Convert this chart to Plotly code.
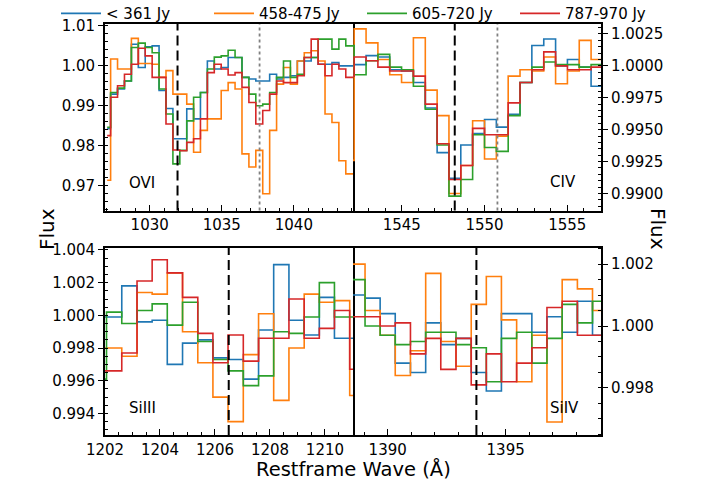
import plotly.graph_objects as go

labels = ["< 361 Jy", "458-475 Jy", "605-720 Jy", "787-970 Jy"]
colors = ["#1f77b4", "#ff7f0e", "#2ca02c", "#d62728"]

# ---------------- OVI panel ----------------
wave_ovi = [1027.05, 1027.53, 1028.01, 1028.49, 1028.97, 1029.45, 1029.93, 1030.41,
            1030.89, 1031.37, 1031.85, 1032.33, 1032.81, 1033.28, 1033.76, 1034.24,
            1034.72, 1035.20, 1035.68, 1036.16, 1036.64, 1037.12, 1037.60, 1038.08,
            1038.56, 1039.04, 1039.52, 1040.00, 1040.48, 1040.96, 1041.44, 1041.92,
            1042.40, 1042.88, 1043.36, 1043.84, 1044.32]
ovi_blue = [0.9842, 0.9929, 0.9942, 0.9962, 1.0054, 0.9996, 1.0048, 1.0050, 0.9938, 0.9893,
            0.9817, 0.9817, 0.9892, 0.9867, 0.9933, 1.0012, 0.9992, 0.9996, 1.0021, 1.0021,
            0.9971, 0.9967, 0.9962, 0.9962, 0.9979, 0.9967, 0.9971, 0.9975, 1.0012, 1.0012,
            1.0021, 1.0004, 1.0004, 1.0008, 1.0000, 1.0000, 1.0000]
ovi_orange = [0.9713, 1.0017, 0.9992, 0.9992, 1.0069, 1.0006, 1.0006, 1.0004, 0.9971, 0.9988,
              0.9929, 0.9929, 0.9904, 0.9783, 0.9838, 0.9867, 0.9867, 0.9938, 0.9958, 0.9942,
              0.9779, 0.9746, 0.9788, 0.9679, 0.9838, 0.9954, 0.9996, 0.9954, 1.0012, 1.0033,
              1.0038, 1.0012, 0.9879, 0.9858, 0.9762, 0.9729, 0.9729]
ovi_green = [0.9846, 0.9933, 0.9944, 0.9962, 1.0046, 1.0057, 1.0046, 1.0033, 0.9942, 0.9879,
             0.9754, 0.9788, 0.9862, 0.9921, 0.9933, 0.9992, 1.0022, 1.0025, 1.0039, 1.0021,
             0.9971, 0.9929, 0.9900, 0.9904, 0.9933, 0.9971, 1.0012, 0.9971, 0.9979, 1.0021,
             1.0021, 1.0067, 1.0067, 1.0042, 1.0067, 1.0050, 1.0050]
ovi_red = [0.9825, 0.9921, 0.9950, 0.9979, 1.0004, 1.0044, 1.0025, 0.9971, 0.9971, 0.9854,
           0.9789, 0.9787, 0.9808, 0.9817, 0.9867, 0.9983, 1.0004, 0.9992, 0.9977, 0.9983,
           0.9946, 0.9908, 0.9854, 0.9888, 0.9929, 0.9962, 0.9958, 0.9958, 0.9975, 1.0021,
           1.0067, 1.0004, 0.9975, 1.0004, 0.9992, 0.9971, 0.9971]

# ---------------- CIV panel ----------------
wave_civ = [1541.76, 1542.48, 1543.20, 1543.91, 1544.63, 1545.34, 1546.06, 1546.78,
            1547.49, 1548.21, 1548.92, 1549.64, 1550.36, 1551.07, 1551.79, 1552.50,
            1553.22, 1553.94, 1554.65, 1555.37, 1556.08, 1556.80, 1557.52]
civ_blue = [0.9999, 1.0001, 1.0008, 1.0007, 0.9997, 0.9996, 0.9987, 0.9967, 0.9932, 0.9912,
            0.9938, 0.9947, 0.9958, 0.9952, 0.9962, 0.9987, 1.0016, 1.0021, 1.0000, 1.0005,
            0.9999, 0.9984, 0.9984]
civ_orange = [0.9926, 1.0029, 1.0018, 1.0005, 0.9993, 0.9987, 1.0022, 0.9981, 0.9961, 0.9900,
              0.9922, 0.9957, 0.9927, 0.9945, 0.9992, 0.9997, 0.9996, 1.0007, 0.9986, 0.9996,
              1.0020, 1.0005, 1.0005]
civ_green = [1.0016, 0.9993, 1.0004, 1.0009, 0.9999, 0.9997, 0.9984, 0.9966, 0.9938, 0.9898,
             0.9911, 0.9946, 0.9936, 0.9933, 0.9961, 0.9987, 0.9999, 1.0003, 1.0001, 1.0001,
             0.9999, 1.0001, 1.0001]
civ_red = [0.9992, 1.0007, 1.0004, 0.9999, 0.9996, 0.9996, 0.9992, 0.9970, 0.9939, 0.9911,
           0.9922, 0.9951, 0.9946, 0.9946, 0.9971, 0.9987, 0.9997, 1.0011, 1.0000, 0.9997,
           0.9997, 0.9999, 0.9999]

# ---------------- SiIII panel ----------------
wave_si3 = [1201.78, 1202.33, 1202.89, 1203.44, 1203.99, 1204.54, 1205.10, 1205.65,
            1206.20, 1206.75, 1207.31, 1207.86, 1208.41, 1208.97, 1209.52, 1210.07,
            1210.62, 1211.18]
si3_blue = [0.9999, 0.9999, 1.0018, 0.9996, 0.9997, 0.9970, 0.9983, 0.9985, 0.9974, 0.9973,
            0.9961, 0.9991, 1.0031, 0.9997, 0.9988, 1.0011, 0.9986, 0.9986]
si3_orange = [0.9980, 0.9980, 0.9975, 1.0014, 1.0013, 1.0026, 0.9990, 0.9971, 0.9950, 0.9935,
              0.9976, 1.0001, 0.9948, 0.9980, 1.0013, 1.0008, 1.0009, 0.9951]
si3_green = [0.9961, 1.0002, 0.9995, 1.0003, 1.0007, 0.9994, 1.0008, 0.9984, 0.9973, 0.9966,
             0.9957, 0.9963, 0.9990, 0.9989, 0.9999, 1.0020, 0.9999, 0.9999]
si3_red = [0.9966, 0.9966, 0.9977, 1.0021, 1.0034, 1.0026, 1.0011, 0.9989, 0.9971, 0.9988,
           0.9972, 0.9986, 0.9986, 1.0010, 0.9986, 0.9992, 1.0003, 0.9967]

# ---------------- SiIV panel ----------------
wave_si4 = [1388.07, 1388.72, 1389.36, 1390.00, 1390.64, 1391.29, 1391.93, 1392.57,
            1393.22, 1393.86, 1394.50, 1395.14, 1395.79, 1396.43, 1397.07, 1397.72,
            1398.36, 1399.00, 1399.64]
si4_blue = [1.0010, 1.0010, 1.0009, 1.0004, 0.9988, 0.9985, 1.0001, 0.9994, 0.9996, 0.9985,
            0.9979, 1.0004, 1.0004, 0.9998, 1.0003, 0.9998, 1.0008, 0.9997, 0.9997]
si4_orange = [1.0020, 1.0020, 1.0005, 0.9997, 0.9984, 0.9992, 1.0017, 0.9995, 0.9987, 1.0007,
              1.0016, 1.0002, 0.9982, 0.9997, 0.9969, 1.0015, 1.0012, 1.0005, 1.0005]
si4_green = [1.0015, 1.0015, 1.0000, 0.9997, 0.9994, 0.9995, 0.9998, 0.9998, 0.9994, 0.9993,
             0.9982, 0.9996, 0.9998, 0.9988, 0.9996, 1.0007, 1.0001, 1.0008, 1.0008]
si4_red = [1.0003, 1.0003, 1.0003, 1.0000, 1.0001, 0.9991, 0.9996, 0.9986, 0.9996, 0.9981,
           0.9991, 0.9982, 0.9988, 0.9993, 1.0006, 1.0008, 0.9997, 0.9997, 0.9997]

# line positions and labels
ion_names = ["OVI", "CIV", "SiIII", "SiIV"]
strong_lines = [1031.93, 1548.20, 1206.50, 1393.76]
weak_lines = [1037.62, 1550.78, None, None]

panels = [
    (wave_ovi, [ovi_blue, ovi_orange, ovi_green, ovi_red]),
    (wave_civ, [civ_blue, civ_orange, civ_green, civ_red]),
    (wave_si3, [si3_blue, si3_orange, si3_green, si3_red]),
    (wave_si4, [si4_blue, si4_orange, si4_green, si4_red]),
]

W, H = 706, 486
xl, xm, xr = 105 / W, 353 / W, 601 / W
top_dom = [1 - 210.5 / H, 1 - 24 / H]
bot_dom = [1 - 435 / H, 1 - 248 / H]

fig = go.Figure()
for p, (wave, series) in enumerate(panels):
    sfx = "" if p == 0 else str(p + 1)
    for s, vals in enumerate(series):
        fig.add_trace(go.Scatter(
            x=wave, y=vals, mode="lines", line=dict(color=colors[s], width=1.6, shape="hvh"),
            name=labels[s], legendgroup=labels[s], showlegend=(p == 0),
            xaxis="x" + sfx, yaxis="y" + sfx, hoverinfo="skip",
        ))

FONT = "DejaVu Sans"
tickfont = dict(family=FONT, size=15, color="black")

def xax(domain, anchor, rng, dtick, tick0, minor):
    return dict(domain=domain, anchor=anchor, range=rng, dtick=dtick, tick0=tick0,
                ticks="inside", ticklen=6, tickwidth=1.3, tickcolor="black",
                minor=dict(dtick=minor, tick0=tick0, ticks="inside", ticklen=3, tickwidth=1.1, tickcolor="black"),
                showline=True, linecolor="black", linewidth=1.8, mirror=True,
                showgrid=False, zeroline=False, tickfont=tickfont, automargin=False)

def yax(domain, anchor, rng, dtick, tick0, minor, fmt, side):
    return dict(domain=domain, anchor=anchor, range=rng, dtick=dtick, tick0=tick0, tickformat=fmt,
                side=side, ticks="outside", ticklen=5, tickwidth=1.3, tickcolor="black",
                minor=dict(dtick=minor, tick0=tick0, ticks="inside", ticklen=3, tickwidth=1.1, tickcolor="black"),
                showline=True, linecolor="black", linewidth=1.8, mirror=(side == "left"),
                showgrid=False, zeroline=False, tickfont=tickfont, automargin=False)

fig.update_layout(
    xaxis=xax([xl, xm], "y", [1026.9, 1044.1], 5, 1030, 1),
    yaxis=yax(top_dom, "x", [0.9637, 1.0105], 0.01, 0.97, 0.002, ".2f", "left"),
    xaxis2=xax([xm, xr], "y2", [1542.05, 1557.04], 5, 1545, 1),
    yaxis2=yax(top_dom, "x2", [0.98867, 1.00328], 0.0025, 0.99, 0.0005, ".4f", "right"),
    xaxis3=xax([xl, xm], "y3", [1202.0, 1211.02], 2, 1202, 0.5),
    yaxis3=yax(bot_dom, "x3", [0.99268, 1.00412], 0.002, 0.994, 0.0005, ".3f", "left"),
    xaxis4=xax([xm, xr], "y4", [1388.53, 1399.04], 5, 1390, 1),
    yaxis4=yax(bot_dom, "x4", [0.99648, 1.00252], 0.002, 0.998, 0.0005, ".3f", "right"),
)

shapes = []
for p in range(4):
    sfx = "" if p == 0 else str(p + 1)
    shapes.append(dict(type="line", xref="x" + sfx, yref="y" + sfx + " domain",
                       x0=strong_lines[p], x1=strong_lines[p], y0=0, y1=1,
                       line=dict(color="black", width=2, dash="10px,5px")))
    if weak_lines[p] is not None:
        shapes.append(dict(type="line", xref="x" + sfx, yref="y" + sfx + " domain",
                           x0=weak_lines[p], x1=weak_lines[p], y0=0, y1=1,
                           line=dict(color="#808080", width=1.8, dash="dot")))

ion_pos = [(0.151, 0.145), (0.847, 0.155), (0.151, 0.145), (0.851, 0.145)]
annotations = []
for p in range(4):
    sfx = "" if p == 0 else str(p + 1)
    annotations.append(dict(text=ion_names[p], xref="x" + sfx + " domain", yref="y" + sfx + " domain",
                            x=ion_pos[p][0], y=ion_pos[p][1], xanchor="center", yanchor="middle",
                            showarrow=False, font=dict(family=FONT, size=15, color="black")))

annotations += [
    dict(text="Flux", xref="paper", yref="paper", x=47 / W, y=1 - 229 / H, textangle=-90,
         xanchor="center", yanchor="middle",
         showarrow=False, font=dict(family=FONT, size=20, color="black")),
    dict(text="Flux", xref="paper", yref="paper", x=658 / W, y=1 - 229 / H, textangle=90,
         xanchor="center", yanchor="middle",
         showarrow=False, font=dict(family=FONT, size=20, color="black")),
    dict(text="Restframe Wave (Å)", xref="paper", yref="paper", x=353 / W, y=1 - 469 / H,
         xanchor="center", yanchor="middle",
         showarrow=False, font=dict(family=FONT, size=19.5, color="black")),
]

fig.update_layout(
    width=W, height=H, margin=dict(l=0, r=0, t=0, b=0, autoexpand=False),
    paper_bgcolor="white", plot_bgcolor="white",
    shapes=shapes, annotations=annotations,
    legend=dict(orientation="h", x=56 / W, y=1.006, xanchor="left", yanchor="top",
                font=dict(family=FONT, size=15, color="black"), bgcolor="rgba(0,0,0,0)",
                itemwidth=40, entrywidth=98, entrywidthmode="pixels", tracegroupgap=0),
    font=dict(family=FONT),
    hovermode=False,
)

fig.write_html("out.html", config={"displayModeBar": False},
               post_script="document.body.style.margin='0px';")
